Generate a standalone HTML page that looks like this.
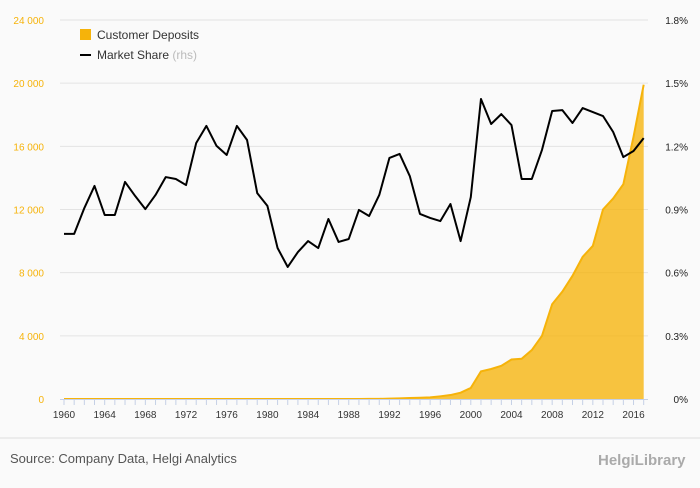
<!DOCTYPE html>
<html><head><meta charset="utf-8"><style>
body{margin:0;background:#fafafa;font-family:"Liberation Sans",sans-serif;}
svg text{font-family:"Liberation Sans",sans-serif;}
</style></head><body>
<svg id="chart" width="700" height="483" xmlns="http://www.w3.org/2000/svg">
<rect width="700" height="483" fill="#fafafa"/>
<g id="grid"></g><g id="area"></g><g id="line"></g><g id="axes"></g>
<g>
<rect x="80" y="29" width="11" height="11" fill="#f6b30a"/>
<text x="97" y="39" font-size="12" fill="#333">Customer Deposits</text>
<line x1="80" y1="55" x2="91" y2="55" stroke="#000" stroke-width="2"/>
<text x="97" y="59" font-size="12" fill="#333">Market Share <tspan fill="#bbb">(rhs)</tspan></text>
</g>
<line x1="0" y1="438" x2="700" y2="438" stroke="#ddd"/>
<text x="10" y="463" font-size="13" fill="#555">Source: Company Data, Helgi Analytics</text>
<text x="598" y="465" font-size="15" fill="#aaa" font-weight="bold">HelgiLibrary</text>
</svg>
<script>
const years=[];for(let y=1960;y<=2017;y++)years.push(y);
const deposits=[0,0,0,0,0,0,0,0,0,0,0,0,0,0,0,0,0,0,0,0,0,0,0,0,0,0,0,0,0,0,5,10,20,40,60,80,100,170,250,400,700,1750,1900,2100,2500,2550,3100,4000,6000,6800,7800,9000,9700,12000,12700,13600,16600,19900];
const share=[0.784,0.784,0.907,1.012,0.874,0.874,1.031,0.964,0.902,0.969,1.054,1.045,1.016,1.216,1.297,1.202,1.159,1.297,1.230,0.978,0.917,0.717,0.627,0.698,0.750,0.717,0.855,0.746,0.760,0.898,0.869,0.969,1.145,1.164,1.059,0.879,0.860,0.845,0.926,0.750,0.959,1.425,1.306,1.353,1.301,1.045,1.045,1.183,1.368,1.372,1.311,1.382,1.363,1.344,1.268,1.149,1.178,1.239];
const leftTicks=[0,4000,8000,12000,16000,20000,24000];
const leftLabels=["0","4 000","8 000","12 000","16 000","20 000","24 000"];
const rightLabels=["0%","0.3%","0.6%","0.9%","1.2%","1.5%","1.8%"];
const xTicks=[1960,1964,1968,1972,1976,1980,1984,1988,1992,1996,2000,2004,2008,2012,2016];
const NS="http://www.w3.org/2000/svg";
const X=y=>64+(y-1960)*10.17;
const YL=v=>399-v/24000*379;
const YR=v=>399-v/1.8*379;
function mk(t,a,p){const e=document.createElementNS(NS,t);for(const k in a)e.setAttribute(k,a[k]);document.getElementById(p).appendChild(e);return e;}
leftTicks.forEach((v,i)=>{
 if(i>0){const g=mk('line',{x1:60,x2:648,y1:YL(v),y2:YL(v),stroke:'#e3e3e3'},'grid');
 
 }
 const t=mk('text',{x:44,y:YL(v)+4,'font-size':10,fill:'#f6b30a','text-anchor':'end'},'axes');t.textContent=leftLabels[i];
 
 
 const r=mk('text',{x:688,y:YL(v)+4,'font-size':10,fill:'#222','text-anchor':'end'},'axes');r.textContent=rightLabels[i];
 
 
});
const ax=mk('line',{x1:60,x2:648,y1:399.5,y2:399.5,stroke:'#c5d0e6'},'axes');


years.forEach(y=>{const t=mk('line',{x1:X(y),x2:X(y),y1:399,y2:405,stroke:'#c5d0e6'},'axes');
 
 });
xTicks.forEach(y=>{const t=mk('text',{x:X(y),y:418,'font-size':10,fill:'#333','text-anchor':'middle'},'axes');t.textContent=y;
 
 });
let d='M'+X(years[0])+','+YL(0);years.forEach((y,i)=>d+=' L'+X(y)+','+YL(deposits[i]));d+=' L'+X(years[years.length-1])+','+YL(0)+'Z';
const a=mk('path',{d:d,fill:'#f6b30a','fill-opacity':0.78},'area');


const ln=mk('polyline',{points:years.map((y,i)=>X(y)+','+YL(deposits[i])).join(' '),fill:'none',stroke:'#f6b30a','stroke-width':2},'area');


const s=mk('polyline',{points:years.map((y,i)=>X(y)+','+YR(share[i])).join(' '),fill:'none',stroke:'#000','stroke-width':2,'stroke-linejoin':'round'},'line');


</script>
</body></html>
